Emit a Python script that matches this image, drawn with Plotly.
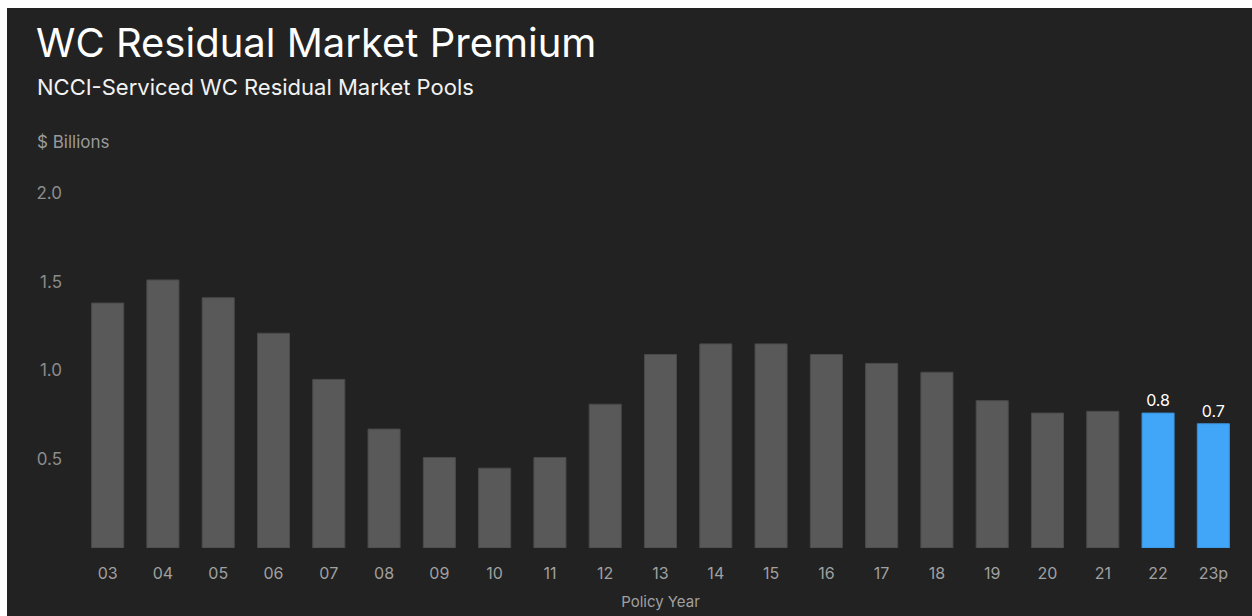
import plotly.graph_objects as go

# Policy years and NCCI residual market premium ($ billions)
years = ["03", "04", "05", "06", "07", "08", "09", "10", "11", "12", "13",
         "14", "15", "16", "17", "18", "19", "20", "21", "22", "23p"]
premium = [1.38, 1.51, 1.41, 1.21, 0.95, 0.67, 0.51, 0.45, 0.51, 0.81, 1.09,
           1.15, 1.15, 1.09, 1.04, 0.99, 0.83, 0.76, 0.77, 0.76, 0.70]
highlighted = ["22", "23p"]
y_ticks = [0.5, 1.0, 1.5, 2.0]

W, H = 1252, 616
L, R, T, B = 80, 11, 193, 68
BG = "#222222"
GREY = "#595959"
BLUE = "#42a6f8"
FONT = "Inter"

colors = [BLUE if y in highlighted else GREY for y in years]
line_colors = ["#3b8fd6" if y in highlighted else "#4a4a4a" for y in years]
labels = [f"{v:.1f}" if y in highlighted else "" for y, v in zip(years, premium)]


def px_x(px):
    return (px - L) / (W - L - R)


def px_y(py):
    return 1 - (py - T) / (H - T - B)


fig = go.Figure(
    go.Bar(
        x=years,
        y=premium,
        marker=dict(color=colors, line=dict(color=line_colors, width=1)),
        text=labels,
        textposition="outside",
        textfont=dict(color="#ffffff", size=16, family=FONT),
        cliponaxis=False,
        hoverinfo="skip",
    )
)

fig.update_layout(
    width=W,
    height=H,
    autosize=False,
    margin=dict(l=L, r=R, t=T, b=B, pad=0, autoexpand=False),
    paper_bgcolor=BG,
    plot_bgcolor=BG,
    bargap=0.42,
    showlegend=False,
    font=dict(family=FONT, color="#9a9a9a"),
    xaxis=dict(
        automargin=False,
        showgrid=False,
        zeroline=False,
        showline=False,
        tickfont=dict(size=16, color="#a0a0a0"),
        ticklabelstandoff=14,
        title=dict(text="Policy Year", font=dict(size=15, color="#a0a0a0"), standoff=14),
    ),
    yaxis=dict(
        automargin=False,
        range=[0, 2.0],
        tickvals=y_ticks,
        ticktext=[f"{v:.1f}" for v in y_ticks],
        showgrid=False,
        zeroline=False,
        showline=False,
        tickfont=dict(size=17, color="#8c8c8c"),
        ticklabelstandoff=17,
    ),
    shapes=[
        # white frame strips along the top and left edges
        dict(type="rect", xref="paper", yref="paper",
             x0=px_x(0), x1=px_x(W), y0=px_y(0), y1=px_y(8),
             fillcolor="#ffffff", line=dict(width=0), layer="above"),
        dict(type="rect", xref="paper", yref="paper",
             x0=px_x(0), x1=px_x(7), y0=px_y(0), y1=px_y(H),
             fillcolor="#ffffff", line=dict(width=0), layer="above"),
    ],
    annotations=[
        dict(text="WC Residual Market Premium", x=px_x(34), y=px_y(42),
             xref="paper", yref="paper", xanchor="left", yanchor="middle",
             showarrow=False, font=dict(size=40, color="#ffffff", family=FONT)),
        dict(text="NCCI-Serviced WC Residual Market Pools", x=px_x(35), y=px_y(87),
             xref="paper", yref="paper", xanchor="left", yanchor="middle",
             showarrow=False, font=dict(size=22, color="#f2f2f2", family=FONT)),
        dict(text="$ Billions", x=px_x(35), y=px_y(142),
             xref="paper", yref="paper", xanchor="left", yanchor="middle",
             showarrow=False, font=dict(size=17, color="#9a9a9a", family=FONT)),
    ],
)

fig.write_html("out.html")
